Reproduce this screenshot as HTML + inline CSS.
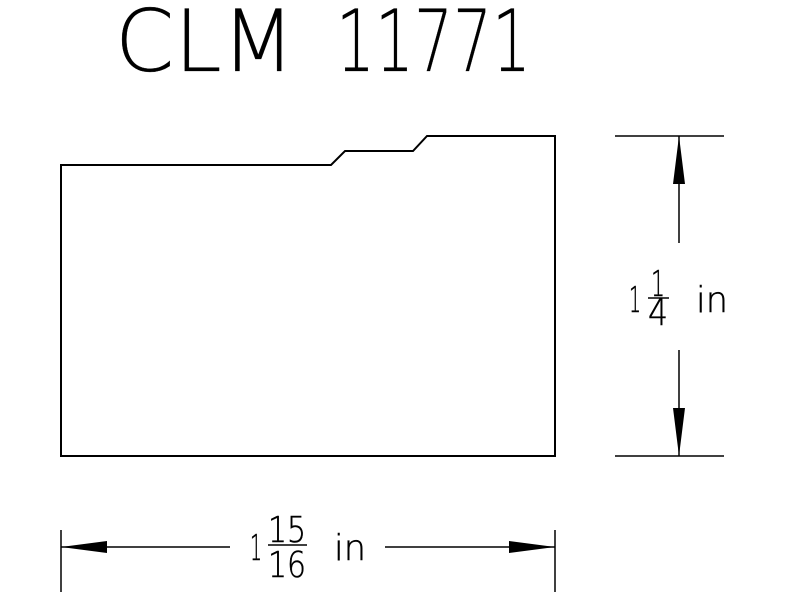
<!DOCTYPE html>
<html><head><style>html,body{margin:0;padding:0;background:#fff;}svg{display:block}</style></head>
<body>
<svg width="800" height="600" viewBox="0 0 800 600" xmlns="http://www.w3.org/2000/svg">
<g font-family="DejaVu Sans ExtraLight, DejaVu Sans, sans-serif" font-weight="200" fill="#000" stroke="#000" stroke-width="0.3">
<text x="115" y="71" font-size="86" textLength="180" lengthAdjust="spacingAndGlyphs">CLM</text>
<text x="336" y="71" font-size="86" textLength="195" lengthAdjust="spacingAndGlyphs">11771</text>
</g>
<g stroke="#000" stroke-width="2" fill="none">
<path d="M61,165 L331,165 L345,151 L413,151 L427,136 L555,136 L555,456 L61,456 Z"/>
</g>
<g stroke="#000" stroke-width="1.5" fill="none">
<line x1="615" y1="136" x2="724" y2="136"/>
<line x1="615" y1="456" x2="724" y2="456"/>
<line x1="679" y1="136" x2="679" y2="243"/>
<line x1="679" y1="350" x2="679" y2="456"/>
<line x1="61" y1="530" x2="61" y2="592"/>
<line x1="555" y1="530" x2="555" y2="592"/>
<line x1="61" y1="547" x2="230" y2="547"/>
<line x1="385" y1="547" x2="555" y2="547"/>
<line x1="268" y1="545" x2="307" y2="545"/>
<line x1="648" y1="298" x2="669" y2="298"/>
</g>
<g fill="#000">
<polygon points="679,136 673,184 685,184"/>
<polygon points="679,456 673,408 685,408"/>
<polygon points="61,547 107,541 107,553"/>
<polygon points="555,547 509,541 509,553"/>
</g>
<g font-family="DejaVu Sans ExtraLight, DejaVu Sans, sans-serif" font-weight="200" fill="#000" stroke="#000" stroke-width="0.5" font-size="36">
<text x="250" y="560" textLength="12" lengthAdjust="spacingAndGlyphs">1</text>
<text x="268" y="542" textLength="38" lengthAdjust="spacingAndGlyphs">15</text>
<text x="268" y="577" textLength="38" lengthAdjust="spacingAndGlyphs">16</text>
<text x="334" y="560" textLength="32" lengthAdjust="spacingAndGlyphs">in</text>
<text x="629" y="312" textLength="12" lengthAdjust="spacingAndGlyphs">1</text>
<text x="651" y="296" textLength="14" lengthAdjust="spacingAndGlyphs">1</text>
<text x="648" y="325" textLength="20" lengthAdjust="spacingAndGlyphs">4</text>
<text x="696" y="312" textLength="32" lengthAdjust="spacingAndGlyphs">in</text>
</g>
</svg>
</body></html>
